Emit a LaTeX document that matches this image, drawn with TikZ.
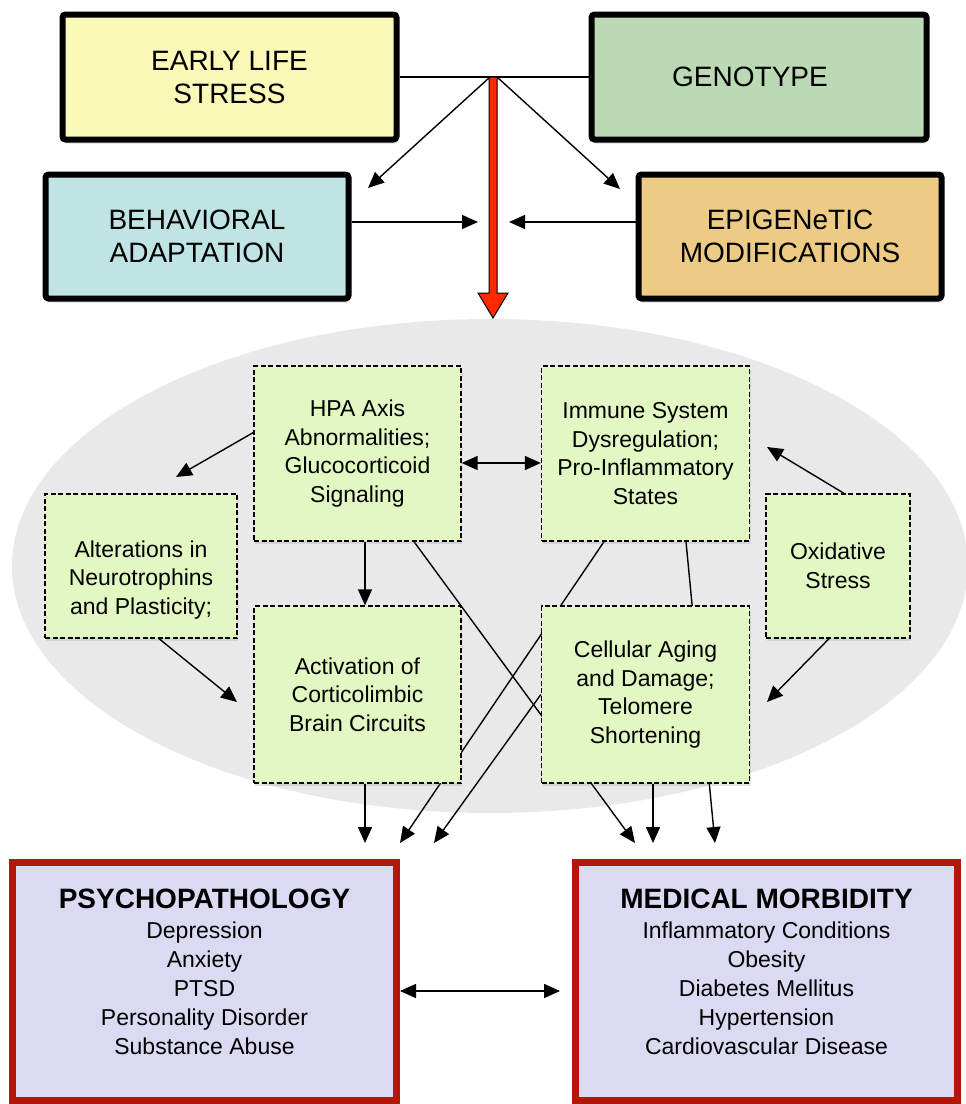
\documentclass[tikz,border=0pt]{standalone}
\usepackage{fontspec}
\setmainfont{Liberation Sans}
\usetikzlibrary{arrows.meta, positioning, shadows}

\definecolor{lifeyellow}{RGB}{250,249,183}
\definecolor{genegreen}{RGB}{188,217,181}
\definecolor{behavblue}{RGB}{192,227,227}
\definecolor{epiorange}{RGB}{238,203,133}
\definecolor{factorgreen}{RGB}{227,247,195}
\definecolor{fieldgray}{RGB}{233,233,233}
\definecolor{outfill}{RGB}{218,218,242}
\definecolor{outred}{RGB}{178,24,8}
\definecolor{flowred}{RGB}{255,40,0}

\pgfdeclarelayer{field}
\pgfdeclarelayer{hidden}
\pgfsetlayers{field,hidden,main}

\tikzset{
  topbox/.style={draw=black, line width=6pt, rounded corners=3pt, align=center,
    font=\fontsize{28}{33}\selectfont, inner sep=0pt,
    drop shadow={shadow xshift=1pt, shadow yshift=-4pt, opacity=.25}},
  factor/.style={draw=black, fill=factorgreen, line width=1.3pt,
    dash pattern=on 5pt off 2.5pt, align=center,
    font=\fontsize{23}{28.5}\selectfont, inner sep=0pt,
    drop shadow={shadow xshift=1pt, shadow yshift=-3pt, opacity=.2}},
  outcome/.style={draw=outred, fill=outfill, line width=7pt, align=center,
    font=\fontsize{23}{29}\selectfont, inner sep=0pt},
  arr/.style={-{Triangle[length=16pt, width=14pt]}, line width=1.4pt},
  biarr/.style={{Triangle[length=16pt, width=14pt]}-{Triangle[length=16pt, width=14pt]}, line width=1.6pt},
}

\begin{document}
\begin{tikzpicture}[x=1pt, y=-1pt]
\useasboundingbox (0,0) rectangle (966,1104);

% top row
\node[topbox, fill=lifeyellow, minimum width=334pt, minimum height=125pt] (life) at (229.5,77) {EARLY LIFE\\STRESS};
\node[topbox, fill=genegreen, minimum width=335pt, minimum height=125pt] (gene) at (759,77) {GENOTYPE\hspace{18pt}};
\node[topbox, fill=behavblue, minimum width=303pt, minimum height=124pt] (behav) at (197,236.5) {BEHAVIORAL\\ADAPTATION};
\node[topbox, fill=epiorange, minimum width=303pt, minimum height=124pt] (epi) at (790,236.5) {EPIGENeTIC\\MODIFICATIONS};

\coordinate (junc) at (493,77);
\coordinate (behavin) at (368,188);
\coordinate (epiin) at (620,189);

\draw[line width=1.3pt] (life.east) -- (gene.west);
\draw[arr] ([xshift=-3pt]junc) -- (behavin);
\draw[arr] ([xshift=4pt]junc) -- (epiin);
\draw[arr] (behav.east |- 0,222) -- (478,222);
\draw[arr] (epi.west |- 0,222) -- (509,222);
\draw[fill=flowred, line width=1pt, shift={(junc)}]
  (-4,0) -- (4,0) -- (4,216) -- (15,216) -- (0,241) -- (-15,216) -- (-4,216) -- cycle;

% stress field
\begin{pgfonlayer}{field}
\fill[fieldgray] (490,566) ellipse [x radius=478, y radius=247];
\end{pgfonlayer}

\node[factor, minimum width=207pt, minimum height=175pt] (hpa) at (357.5,453.5) {HPA Axis\\Abnormalities;\\Glucocorticoid\\Signaling};
\node[factor, minimum width=208pt, minimum height=175pt] (immune) at (645.5,453.5) {Immune System\\Dysregulation;\\Pro-Inflammatory\\States};
\node[factor, minimum width=192pt, minimum height=144pt] (neuro) at (141,566) {\mbox{}\\[16pt]Alterations in\\Neurotrophins\\and Plasticity;};
\node[factor, minimum width=144pt, minimum height=144pt] (oxid) at (838,566) {Oxidative\\Stress};
\node[factor, minimum width=207pt, minimum height=177pt] (brain) at (357.5,694.5) {Activation of\\Corticolimbic\\Brain Circuits};
\node[factor, minimum width=208pt, minimum height=177pt] (aging) at (645.5,694.5) {Cellular Aging\\and Damage;\\Telomere\\Shortening};

% outcomes
\node[outcome, minimum width=384pt, minimum height=238pt] (psych) at (204.5,981.5)
  {{\fontsize{28}{32}\selectfont\bfseries PSYCHOPATHOLOGY}\\[1pt]Depression\\Anxiety\\PTSD\\Personality Disorder\\Substance Abuse\\[-9pt]\mbox{}};
\node[outcome, minimum width=382pt, minimum height=238pt] (medic) at (766.5,981.5)
  {{\fontsize{28}{32}\selectfont\bfseries MEDICAL MORBIDITY}\\[1pt]Inflammatory Conditions\\Obesity\\Diabetes Mellitus\\Hypertension\\Cardiovascular Disease\\[-9pt]\mbox{}};

\coordinate (neuroin) at (176,477);
\coordinate (immunein) at (767,447);
\coordinate (brainin) at (237,702);
\coordinate (agingin) at (767,702);
\coordinate (p1) at (365,843);
\coordinate (p2) at (400,843);
\coordinate (p3) at (434,843);
\coordinate (m1) at (635,843);
\coordinate (m2) at (653,843);
\coordinate (m3) at (715,843);

\draw[arr] ([yshift=21pt]hpa.west) -- (neuroin);
\draw[biarr] (hpa.east |- 0,463) -- (immune.west |- 0,463);
\draw[arr] ([xshift=6pt]oxid.north) -- (immunein);
\draw[arr] ([xshift=7.5pt]hpa.south) -- ([xshift=7.5pt]brain.north);
\draw[arr] ([xshift=18pt]neuro.south) -- (brainin);
\draw[arr] ([xshift=-9pt]oxid.south) -- (agingin);
\draw[arr] ([xshift=7.5pt]brain.south) -- (p1);
\draw[arr] ([xshift=7.5pt]aging.south) -- (m2);

% lines running behind the boxes
\begin{pgfonlayer}{hidden}
\draw[arr] ([xshift=-41.5pt]immune.south) -- (p2);
\draw[arr] (aging.west) -- (p3);
\draw[arr] ([xshift=56.5pt]hpa.south) -- (m1);
\draw[arr] ([xshift=40.5pt]immune.south) -- (m3);
\end{pgfonlayer}

\draw[biarr, shorten >=12pt] (psych.east |- 0,991) -- (medic.west |- 0,991);
\end{tikzpicture}
\end{document}
